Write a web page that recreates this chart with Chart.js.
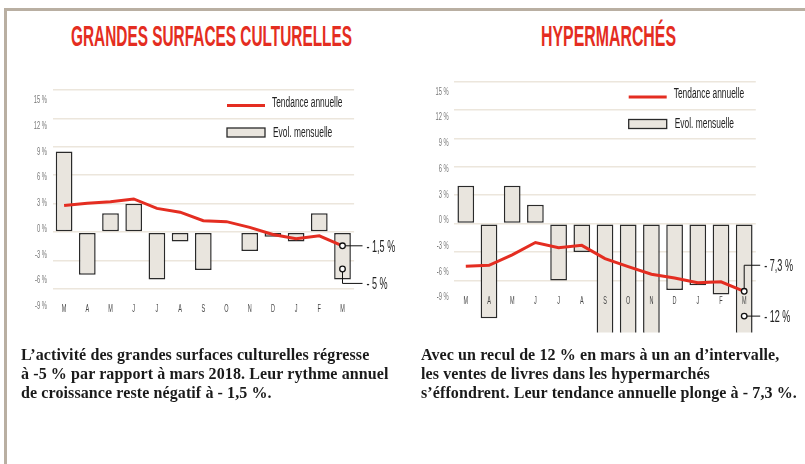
<!DOCTYPE html>
<html>
<head>
<meta charset="utf-8">
<script src="https://cdn.jsdelivr.net/npm/chart.js@4/dist/chart.umd.min.js"></script>
<style>
  html, body { margin: 0; padding: 0; background: #fff; }
  body { width: 805px; height: 464px; position: relative; overflow: hidden; }
  .frame { position: absolute; left: 4px; top: 8px; right: -4px; bottom: -4px;
    border-top: 3px solid #b9afa2; border-left: 3px solid #b9afa2; }
  .title { position: absolute; top: 22px; font: bold 29px 'Liberation Sans', Arial, sans-serif;
    line-height: 29px; color: #e42d21; white-space: nowrap; transform-origin: 0 0; }
  .caption { position: absolute; top: 345px; font: bold 16px 'Liberation Serif', 'Times New Roman', serif;
    letter-spacing: 0.1px; line-height: 19px; color: #1a1a1a; white-space: nowrap; }
  canvas { position: absolute; top: 0; }
</style>
</head>
<body>
<div class="frame"></div>
<div class="title" id="t1" data-w="281" style="left:71px">GRANDES SURFACES CULTURELLES</div>
<div class="title" id="t2" data-w="135" style="left:541px">HYPERMARCHÉS</div>
<canvas id="gsc" width="400" height="360" style="left:0"></canvas>
<canvas id="hyper" width="405" height="360" style="left:400px"></canvas>
<div class="caption" style="left:21px">L’activité des grandes surfaces culturelles régresse<br>à -5 % par rapport à mars 2018. Leur rythme annuel<br>de croissance reste négatif à - 1,5 %.</div>
<div class="caption" style="left:421px">Avec un recul de 12 % en mars à un an d’intervalle,<br>les ventes de livres dans les hypermarchés<br>s’éffondrent. Leur tendance annuelle plonge à - 7,3 %.</div>
<script>
// months from march 2018 to march 2019
const months = ['M', 'A', 'M', 'J', 'J', 'A', 'S', 'O', 'N', 'D', 'J', 'F', 'M']

// grandes surfaces culturelles
const gscMonthly = [8.5, -4.5, 2, 3, -5, -1, -4, -0.1, -2, -0.5, -1, 2, -5]
const gscTrend = [2.8, 3.05, 3.2, 3.5, 2.5, 2.1, 1.2, 1.1, 0.5, -0.25, -0.7, -0.4, -1.45]

// hypermarchés (S, O, N run off the bottom of the chart)
const hyperMonthly = [4, -10, 4, 2, -6, -3, -13, -13, -13, -7, -6.5, -7.5, -12]
const hyperTrend = [-4.5, -4.4, -3.3, -2.0, -2.55, -2.3, -3.7, -4.55, -5.35, -5.75, -6.25, -6.15, -7.15]

const gridTicks = [15, 12, 9, 6, 3, 0, -3, -6]
const labelTicks = [15, 12, 9, 6, 3, 0, -3, -6, -9]

// callouts on the last month: where the dot sits, where the label sits
const gscNotes = [
  {label: '- 1,5 %', at: -1.45, textAt: -1.45},
  {label: '- 5 %', at: -3.9, textAt: -5.42}
]
const hyperNotes = [
  {label: '- 7,3 %', at: -7.15, textAt: -4.4},
  {label: '- 12 %', at: -9.77, textAt: -9.77}
]

const RED = '#e42d21'
const BAR_FILL = '#e9e5de'
const BAR_LINE = '#2a2a2a'

// draw narrow text by squeezing a regular face
function narrowText(ctx, text, x, y, size, sx, align, color) {
  ctx.save()
  ctx.font = size + "px 'Liberation Sans', Arial, sans-serif"
  ctx.fillStyle = color
  ctx.textBaseline = 'alphabetic'
  ctx.textAlign = 'left'
  const w = ctx.measureText(text).width * sx
  let x0 = x
  if (align === 'right') x0 = x - w
  if (align === 'center') x0 = x - w / 2
  ctx.translate(x0, y + size * 0.36)
  ctx.scale(sx, 1)
  ctx.fillText(text, 0, 0)
  ctx.restore()
}

const decor = {
  id: 'decor',
  afterDatasetsDraw(chart, args, opts) {
    const ctx = chart.ctx
    const ca = chart.chartArea
    const x = chart.scales.x
    const y = chart.scales.y
    const yl = chart.scales.yl

    // y tick labels
    yl.ticks.forEach(t => {
      narrowText(ctx, t.value + ' %', ca.left - 5.5, yl.getPixelForValue(t.value), 10, 0.58, 'right', '#777')
    })

    // month labels, drawn inside the plot over the bars
    const ly = yl.getPixelForValue(-9) + 3.5
    months.forEach((m, i) => {
      narrowText(ctx, m, x.getPixelForValue(i), ly, 10, 0.55, 'center', '#444')
    })

    // legend
    ctx.save()
    ctx.strokeStyle = RED
    ctx.lineWidth = 3
    ctx.beginPath()
    ctx.moveTo(ca.left + 174.5, ca.top + 15.5)
    ctx.lineTo(ca.left + 212.5, ca.top + 15.5)
    ctx.stroke()
    ctx.fillStyle = BAR_FILL
    ctx.strokeStyle = BAR_LINE
    ctx.lineWidth = 1.3
    ctx.fillRect(ca.left + 174.5, ca.top + 38, 38, 9)
    ctx.strokeRect(ca.left + 174.5, ca.top + 38, 38, 9)
    ctx.restore()
    narrowText(ctx, 'Tendance annuelle', ca.left + 219.5, ca.top + 11.5, 14, 0.6, 'left', '#222')
    narrowText(ctx, 'Evol. mensuelle', ca.left + 220.5, ca.top + 41.8, 14, 0.6, 'left', '#222')

    // callouts
    const cx = x.getPixelForValue(months.length - 1)
    const tx = cx + opts.gap
    opts.notes.forEach(n => {
      const py = y.getPixelForValue(n.at)
      const ty = y.getPixelForValue(n.textAt)
      ctx.save()
      ctx.strokeStyle = '#111'
      ctx.lineWidth = 1
      ctx.beginPath()
      ctx.moveTo(cx, py)
      ctx.lineTo(cx, ty)
      ctx.lineTo(tx - 4, ty)
      ctx.stroke()
      ctx.beginPath()
      ctx.arc(cx, py, 2.8, 0, Math.PI * 2)
      ctx.fillStyle = '#fff'
      ctx.fill()
      ctx.lineWidth = 1.3
      ctx.stroke()
      ctx.restore()
      narrowText(ctx, n.label, tx, ty, 16.5, 0.55, 'left', '#222')
    })
  }
}

function makeChart(canvasId, monthly, trend, notes, gap, padding) {
  const data = {
    labels: months,
    datasets: [
      {
        type: 'line',
        data: trend,
        borderColor: RED,
        borderWidth: 3,
        pointRadius: 0,
        tension: 0,
        order: 0,
        xAxisID: 'x',
        yAxisID: 'y'
      },
      {
        type: 'bar',
        data: monthly,
        backgroundColor: BAR_FILL,
        borderColor: BAR_LINE,
        borderWidth: 1.5,
        borderSkipped: false,
        barPercentage: 0.72,
        categoryPercentage: 1,
        clip: 0,
        order: 1,
        xAxisID: 'x',
        yAxisID: 'y'
      }
    ]
  }

  const options = {
    responsive: false,
    animation: false,
    devicePixelRatio: 1,
    layout: { padding },
    plugins: {
      legend: { display: false },
      tooltip: { enabled: false },
      decor: { notes, gap }
    },
    scales: {
      x: { display: false, offset: true },
      y: {
        axis: 'y',
        position: 'left',
        min: -11.5,
        max: 15,
        afterBuildTicks: s => { s.ticks = gridTicks.map(v => ({value: v})) },
        afterFit: s => { s.width = 0 },
        ticks: { display: false },
        border: { display: false },
        grid: {
          drawTicks: false,
          lineWidth: 1.6,
          color: c => c.tick && c.tick.value < -6 ? 'rgba(0,0,0,0)' : '#ece6dc'
        }
      },
      // the printed % labels sit on a slightly tighter scale than the grid
      yl: {
        axis: 'y',
        position: 'left',
        display: false,
        min: -13.15,
        max: 16.1,
        afterBuildTicks: s => { s.ticks = labelTicks.map(v => ({value: v})) }
      }
    }
  }

  return new Chart(document.getElementById(canvasId).getContext('2d'), {
    type: 'bar',
    data,
    options,
    plugins: [decor]
  })
}

makeChart('gsc', gscMonthly, gscTrend, gscNotes, 24, {left: 52.5, right: 45.9, top: 90, bottom: 19})
makeChart('hyper', hyperMonthly, hyperTrend, hyperNotes, 20, {left: 54.2, right: 49.2, top: 81.5, bottom: 27.5})

// squeeze the titles to the narrow printed width
document.querySelectorAll('.title').forEach(el => {
  const w = el.getBoundingClientRect().width
  el.style.transform = 'scaleX(' + (Number(el.dataset.w) / w) + ')'
})
</script>
</body>
</html>
